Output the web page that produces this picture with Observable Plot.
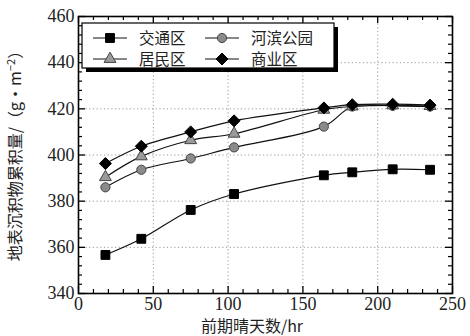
<!DOCTYPE html>
<html><head><meta charset="utf-8">
<script src="https://cdn.jsdelivr.net/npm/d3@7"></script>
<script src="https://cdn.jsdelivr.net/npm/@observablehq/plot@0.6"></script>
<style>body{margin:0;background:#fff} svg text.num{font-family:"Liberation Serif","DejaVu Serif",serif !important}</style>
</head><body><div id="chart"></div>
<script>
// ---- data ----
const days = [18, 42, 75, 104, 164, 183, 210, 235];
const traffic = [356.7, 363.7, 376.2, 383.1, 391.2, 392.5, 393.8, 393.6];
const riverside = [386.0, 393.6, 398.5, 403.3, 412.3, 421.0, 421.3, 421.0];
const residential = [390.4, 399.4, 406.4, 409.2, 419.6, 421.0, 421.5, 421.2];
const commercial = [396.3, 403.8, 410.0, 414.8, 420.4, 421.8, 422.0, 421.6];
const seriesNames = ["交通区", "河滨公园", "居民区", "商业区"];
const xTicks = [0, 50, 100, 150, 200, 250];
const yTicks = [340, 360, 380, 400, 420, 440, 460];
const xLabel = "前期晴天数/hr";
const yLabel = "地表沉积物累积量/（g·m";

// ---- styles ----
const cjk = "Noto Sans CJK SC, sans-serif";
const styles = {
  "交通区":   {symbol: "square",   fill: "#000", stroke: "#000", r: 5.0},
  "河滨公园": {symbol: "circle",   fill: "#8a8a8a", stroke: "#444", r: 4.6},
  "居民区":   {symbol: "triangle", fill: "#9a9a9a", stroke: "#444", r: 4.4},
  "商业区":   {symbol: "diamond2", fill: "#000", stroke: "#000", r: 5.4}
};
const values = {"交通区": traffic, "河滨公园": riverside, "居民区": residential, "商业区": commercial};
const rows = [];
for (const name of seriesNames) values[name].forEach((v, i) => rows.push({series: name, x: days[i], y: v}));

const xMinor = d3.range(0, 251, 10).filter(v => !xTicks.includes(v));
const yMinor = d3.range(340, 461, 4).filter(v => !yTicks.includes(v));
const xGrid = xTicks.slice(1, -1), yGrid = yTicks.slice(1, -1);

const marks = [
  Plot.gridX(xGrid, {stroke: "#999", strokeOpacity: 1, strokeDasharray: "1.2,2.5"}),
  Plot.gridY(yGrid, {stroke: "#999", strokeOpacity: 1, strokeDasharray: "1.2,2.5"}),
  Plot.axisX(xTicks, {tickSize: 0, tickPadding: 4, fontSize: 18, fill: "#222", label: null}),
  Plot.axisY(yTicks, {tickSize: 0, tickPadding: 4, fontSize: 18, fill: "#222", label: null}),
  // inward ticks on all four sides
  Plot.ruleX(xTicks, {x: d => d, y1: 340, y2: 340, insetTop: -7, stroke: "#000", strokeWidth: 1.3}),
  Plot.ruleX(xMinor, {x: d => d, y1: 340, y2: 340, insetTop: -4, stroke: "#000", strokeWidth: 1.2}),
  Plot.ruleX(xTicks, {x: d => d, y1: 460, y2: 460, insetBottom: -7, stroke: "#000", strokeWidth: 1.3}),
  Plot.ruleX(xMinor, {x: d => d, y1: 460, y2: 460, insetBottom: -4, stroke: "#000", strokeWidth: 1.2}),
  Plot.ruleY(yTicks, {y: d => d, x1: 0, x2: 0, insetRight: -7, stroke: "#000", strokeWidth: 1.3}),
  Plot.ruleY(yMinor, {y: d => d, x1: 0, x2: 0, insetRight: -4, stroke: "#000", strokeWidth: 1.2}),
  Plot.ruleY(yTicks, {y: d => d, x1: 250, x2: 250, insetLeft: -7, stroke: "#000", strokeWidth: 1.3}),
  Plot.ruleY(yMinor, {y: d => d, x1: 250, x2: 250, insetLeft: -4, stroke: "#000", strokeWidth: 1.2}),
  Plot.frame({stroke: "#000", strokeWidth: 1.6})
];
for (const name of seriesNames) {
  const s = styles[name];
  const data = rows.filter(d => d.series === name);
  marks.push(Plot.line(data, {x: "x", y: "y", curve: "catmull-rom", stroke: "#111", strokeWidth: 1.2}));
  marks.push(Plot.dot(data, {x: "x", y: "y", symbol: () => s.symbol, r: s.r, fill: s.fill, stroke: s.stroke, strokeWidth: 1}));
}

const chart = Plot.plot({
  width: 470, height: 336,
  marginLeft: 78, marginRight: 18, marginTop: 16, marginBottom: 43,
  style: {background: "#fff"},
  x: {domain: [0, 250], axis: null},
  y: {domain: [340, 460], axis: null},
  symbol: {type: "identity"},
  marks
});
document.getElementById("chart").appendChild(chart);

// serif digits for every tick label Plot drew
const svg = d3.select(chart);
svg.selectAll("text").classed("num", true).attr("font-family", "Liberation Serif");

// ---- axis titles and legend ----
svg.append("text").attr("x", 252).attr("y", 332).attr("text-anchor", "middle")
  .style("font-family", cjk).attr("font-size", 16).attr("fill", "#222").text(xLabel);
const yt = svg.append("text").attr("transform", "translate(21,152) rotate(-90)").attr("text-anchor", "middle")
  .style("font-family", cjk).attr("font-size", 16).attr("fill", "#222");
yt.append("tspan").text(yLabel);
yt.append("tspan").attr("dy", -6).attr("font-size", 11).text("−2");
yt.append("tspan").attr("dy", 6).text("）");

const lg = svg.append("g");
lg.append("rect").attr("x", 86).attr("y", 27).attr("width", 252).attr("height", 45).attr("fill", "#000");
lg.append("rect").attr("x", 82).attr("y", 23).attr("width", 252).attr("height", 45).attr("fill", "#fff").attr("stroke", "#000").attr("stroke-width", 1.2);
const legendLayout = [
  {name: "交通区", cx: 110, cy: 38}, {name: "居民区", cx: 110, cy: 59},
  {name: "河滨公园", cx: 222, cy: 38}, {name: "商业区", cx: 222, cy: 59}
];
const symMap = {square: d3.symbolSquare, circle: d3.symbolCircle, triangle: d3.symbolTriangle, diamond2: d3.symbolDiamond2};
for (const it of legendLayout) {
  const s = styles[it.name];
  lg.append("line").attr("x1", it.cx - 17).attr("x2", it.cx + 17).attr("y1", it.cy).attr("y2", it.cy).attr("stroke", "#111").attr("stroke-width", 1.2);
  lg.append("path").attr("transform", `translate(${it.cx},${it.cy})`)
    .attr("d", d3.symbol(symMap[s.symbol], s.r * s.r * Math.PI)())
    .attr("fill", s.fill).attr("stroke", s.stroke);
  lg.append("text").attr("x", it.cx + 29).attr("y", it.cy + 6).attr("text-anchor", "start")
    .style("font-family", cjk).attr("font-size", 15.5).attr("fill", "#222").text(it.name);
}
</script></body></html>
